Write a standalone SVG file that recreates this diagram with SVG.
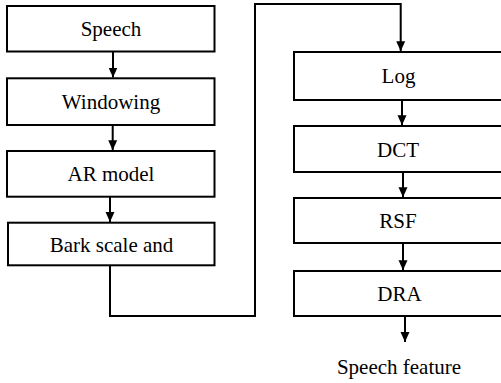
<svg xmlns="http://www.w3.org/2000/svg" width="501" height="383" viewBox="0 0 501 383">
<style>
.box{fill:#fff;stroke:#000;stroke-width:2}
.lbl{font-family:"Liberation Serif","Times New Roman",serif;font-size:21px;fill:#000;text-anchor:middle}
.con{fill:none;stroke:#000;stroke-width:2}
</style>
<defs>
<marker id="ah" viewBox="0 0 10 10" refX="10" refY="5" markerWidth="10" markerHeight="10" markerUnits="userSpaceOnUse" orient="auto">
<path d="M0,0.5 L10,5 L0,9.5 Z" fill="#000"/>
</marker>
</defs>
<g id="speech"><rect class="box" x="7" y="6" width="207.5" height="45.5"/><text class="lbl" x="111" y="36">Speech</text></g>
<g id="windowing"><rect class="box" x="7" y="78.3" width="207.5" height="46.7"/><text class="lbl" x="111" y="108.5">Windowing</text></g>
<g id="ar"><rect class="box" x="7" y="151" width="207.5" height="45.7"/><text class="lbl" x="111" y="181">AR model</text></g>
<g id="bark"><rect class="box" x="8" y="222.7" width="206.5" height="42.6"/><text class="lbl" x="111.5" y="251.5">Bark scale and</text></g>
<g id="log"><rect class="box" x="294" y="52" width="210" height="48"/><text class="lbl" x="398.5" y="83">Log</text></g>
<g id="dct"><rect class="box" x="294" y="126" width="210" height="46"/><text class="lbl" x="398" y="156.5">DCT</text></g>
<g id="rsf"><rect class="box" x="294" y="198" width="210" height="45"/><text class="lbl" x="398" y="228">RSF</text></g>
<g id="dra"><rect class="box" x="294" y="271" width="210" height="45"/><text class="lbl" x="399.5" y="300.5">DRA</text></g>
<g id="out"><text class="lbl" x="399" y="373.5">Speech feature</text></g>
<g id="connectors">
<line class="con" x1="113" y1="51.5" x2="113" y2="77.5" marker-end="url(#ah)"/>
<line class="con" x1="112.7" y1="125" x2="112.7" y2="150.2" marker-end="url(#ah)"/>
<line class="con" x1="110" y1="196.7" x2="110" y2="221.9" marker-end="url(#ah)"/>
<polyline class="con" points="110,265.3 110,316 255,316 255,4 400.7,4 400.7,51.2" marker-end="url(#ah)"/>
<line class="con" x1="402" y1="100" x2="402" y2="125.2" marker-end="url(#ah)"/>
<line class="con" x1="403" y1="172" x2="403" y2="197.2" marker-end="url(#ah)"/>
<line class="con" x1="403" y1="243" x2="403" y2="270.2" marker-end="url(#ah)"/>
<line class="con" x1="405" y1="316" x2="405" y2="342" marker-end="url(#ah)"/>
</g>
</svg>
